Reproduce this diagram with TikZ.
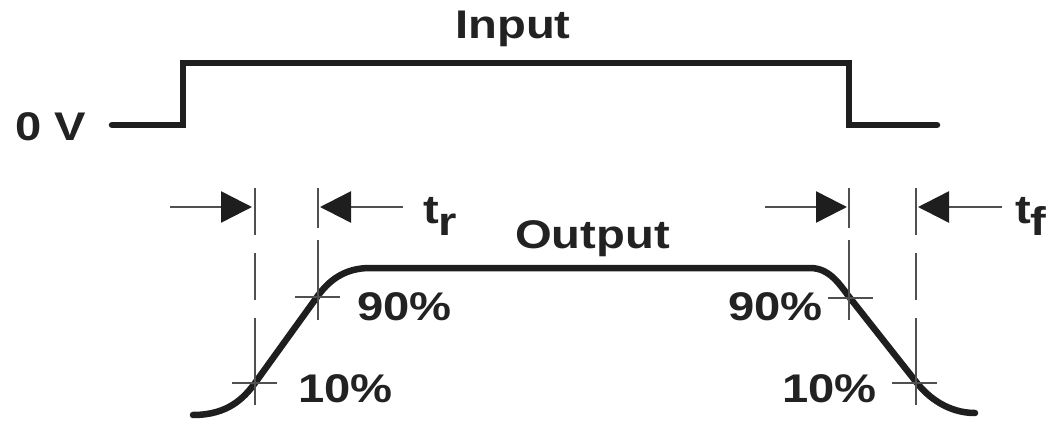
\documentclass[tikz,border=0pt]{standalone}
\usepackage{fontspec}
\newfontfamily\labfont[FakeStretch=1.18]{Liberation Sans Bold}
\usetikzlibrary{arrows.meta}
\definecolor{wave}{HTML}{1E1E1E}
\definecolor{guide}{HTML}{505050}
\definecolor{txt}{HTML}{222222}
\tikzset{
  signal/.style={draw=wave, line width=6.5pt, line cap=round, line join=miter},
  guideline/.style={draw=guide, line width=2.5pt},
  dashA/.style={guideline, dash pattern=on 47pt off 18pt},
  dashB/.style={guideline, dash pattern=on 40pt off 12pt on 90pt off 10pt},
  dimarrow/.style={draw=guide, line width=2.5pt, -{Triangle[length=31pt,width=31pt,fill=wave,color=wave]}},
  lab/.style={inner sep=0pt, anchor=base west, text=txt, font=\labfont\fontsize{40}{40}\selectfont},
}
\begin{document}
\begin{tikzpicture}[x=1pt,y=-1pt]
\useasboundingbox (0,0) rectangle (1061,423);
% input waveform
\coordinate (i0) at (112,125);
\coordinate (i1) at (183,125);
\coordinate (i2) at (183,63);
\coordinate (i3) at (849,63);
\coordinate (i4) at (849,125);
\coordinate (i5) at (937,125);
\draw[signal] (i0) -- (i1) -- (i2) -- (i3) -- (i4) -- (i5);
% output waveform
\coordinate (o0) at (193,415);
\coordinate (r10) at (255,383);
\coordinate (r90) at (317,297);
\coordinate (o1) at (370,268);
\coordinate (o2) at (810,268);
\coordinate (f90) at (850,298);
\coordinate (f10) at (917,383);
\coordinate (o3) at (975,413);
\draw[signal] (o0) .. controls (228,415) and (244,398) .. (r10) -- (r90)
  .. controls (329,280) and (345,268) .. (o1) -- (o2)
  .. controls (830,268) and (840,285) .. (f90) -- (f10)
  .. controls (928,397) and (948,413) .. (o3);
% vertical guides
\coordinate (va0) at (255,188); \coordinate (va1) at (255,405);
\coordinate (vb0) at (318,188); \coordinate (vb1) at (318,320);
\coordinate (vc0) at (849,188); \coordinate (vc1) at (849,320);
\coordinate (vd0) at (916,188); \coordinate (vd1) at (916,405);
\draw[dashA] (va0) -- (255,365);
\draw[guideline] (255,363) -- (va1);
\draw[dashB] (vb0) -- (vb1);
\draw[dashB] (vc0) -- (vc1);
\draw[dashA] (vd0) -- (916,365);
\draw[guideline] (916,363) -- (vd1);
% crossing ticks
\draw[guideline] (232,383) -- (277,383);
\draw[guideline] (295,297) -- (340,297);
\draw[guideline] (828,298) -- (873,298);
\draw[guideline] (892,383) -- (937,383);
% dimension arrows
\coordinate (a1s) at (170,207); \coordinate (a1e) at (252,207);
\coordinate (a2s) at (403,207); \coordinate (a2e) at (320,207);
\coordinate (a3s) at (765,207); \coordinate (a3e) at (847,207);
\coordinate (a4s) at (1002,207); \coordinate (a4e) at (918,207);
\draw[dimarrow] (a1s) -- (a1e);
\draw[dimarrow] (a2s) -- (a2e);
\draw[dimarrow] (a3s) -- (a3e);
\draw[dimarrow] (a4s) -- (a4e);
% labels
\node[lab] (zv) at (15,140) {0 V};
\node[lab] (inp) at (455,38) {Input};
\node[lab] (outp) at (515,248) {Output};
\node[lab] (tr) at (423,223) {t\raisebox{-12pt}{r}};
\node[lab] (tf) at (1015,223) {t\raisebox{-12pt}{f}};
\node[lab] (l90) at (357,320) {90\%};
\node[lab] (l10) at (298,402) {10\%};
\node[lab] (r90l) at (728,320) {90\%};
\node[lab] (r10l) at (782,402) {10\%};
\end{tikzpicture}
\end{document}
